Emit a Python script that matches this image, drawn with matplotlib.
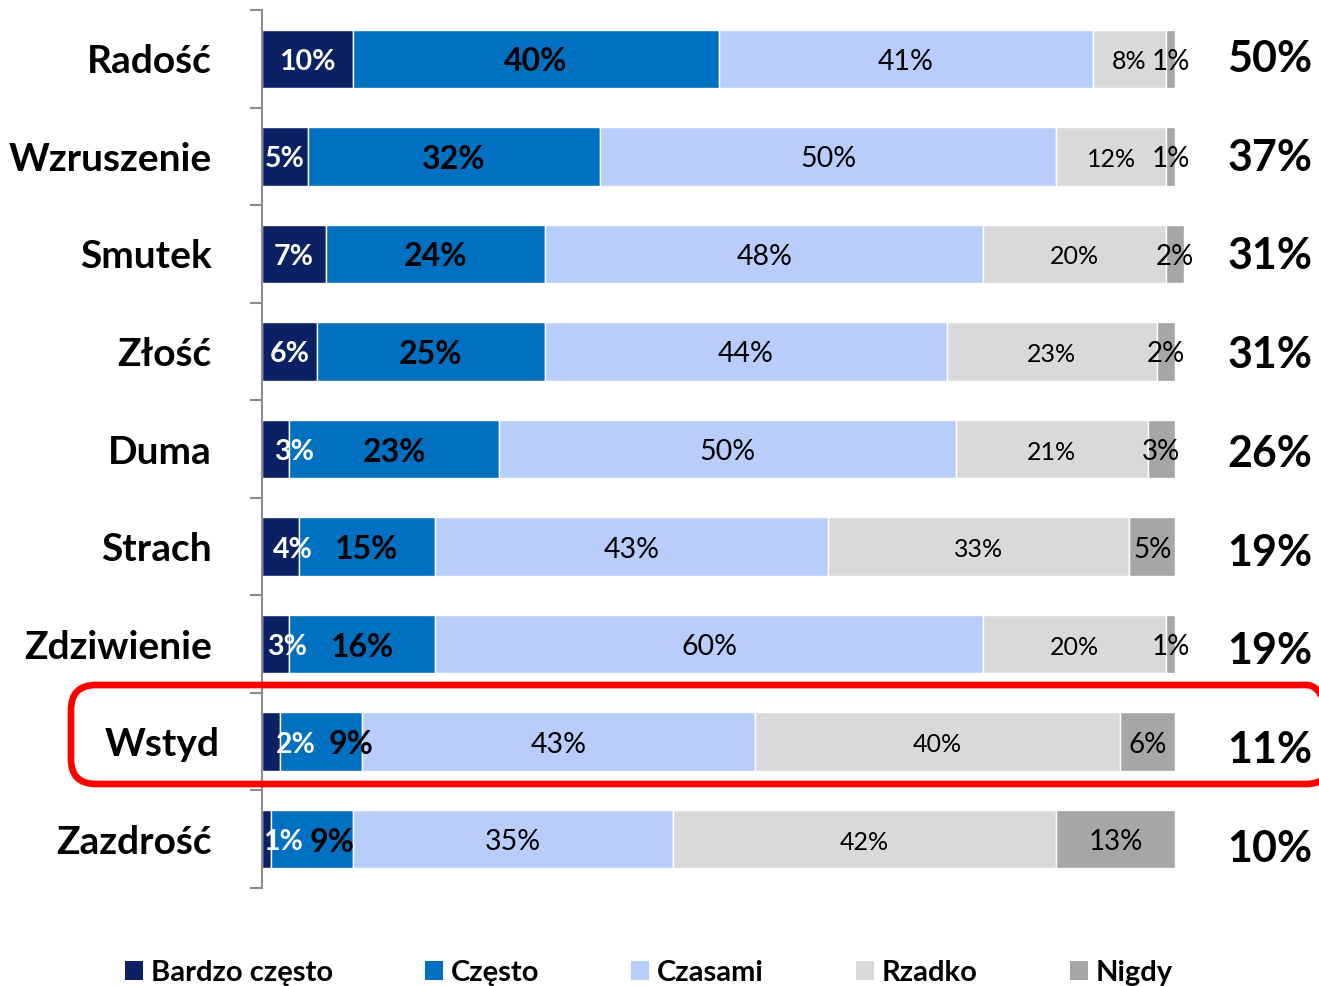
import matplotlib
matplotlib.use("Agg")
import matplotlib.pyplot as plt
from matplotlib.patches import FancyBboxPatch, Patch
import numpy as np

plt.rcParams['font.family'] = ['Lato', 'DejaVu Sans']

categories = ['Radość', 'Wzruszenie', 'Smutek', 'Złość', 'Duma',
              'Strach', 'Zdziwienie', 'Wstyd', 'Zazdrość']
series_names = ['Bardzo często', 'Często', 'Czasami', 'Rzadko', 'Nigdy']
bardzo_czesto = [10, 5, 7, 6, 3, 4, 3, 2, 1]
czesto = [40, 32, 24, 25, 23, 15, 16, 9, 9]
czasami = [41, 50, 48, 44, 50, 43, 60, 43, 35]
rzadko = [8, 12, 20, 23, 21, 33, 20, 40, 42]
nigdy = [1, 1, 2, 2, 3, 5, 1, 6, 13]
top2 = ['50%', '37%', '31%', '31%', '26%', '19%', '19%', '11%', '10%']

colors = ['#0B2163', '#0070C0', '#B8CDF9', '#D9D9D9', '#A6A6A6']
label_style = [
    dict(color='white', fontweight='bold', fontsize=20.5),
    dict(color='black', fontweight='bold', fontsize=23),
    dict(color='black', fontsize=20.5),
    dict(color='black', fontsize=18),
    dict(color='black', fontsize=20),
]
# horizontal nudges (pixels) for crowded labels: (row, series) -> dx
nudges = {(4, 0): 18, (5, 0): 13, (6, 0): 11, (7, 0): 25, (7, 1): 30,
          (8, 0): 16, (8, 1): 20}

W, H = 1319, 986
fig = plt.figure(figsize=(W / 100, H / 100), dpi=100)
ax = fig.add_axes([262 / W, 1 - 888 / H, 913 / W, 878 / H])

data = np.array([bardzo_czesto, czesto, czasami, rzadko, nigdy], dtype=float)
y = np.arange(len(categories))
left = np.zeros(len(categories))
for s in range(len(series_names)):
    ax.barh(y, data[s], left=left, height=0.6, color=colors[s],
            edgecolor='white', linewidth=1.0, label=series_names[s],
            clip_on=False)
    for i in range(len(categories)):
        cx = left[i] + data[s][i] / 2
        dx = nudges.get((i, s), 0)
        ax.annotate(f'{int(data[s][i])}%', xy=(cx, i), xytext=(dx, -3),
                    textcoords='offset pixels', ha='center', va='center',
                    **label_style[s])
    left += data[s]

ax.set_xlim(0, 100)
ax.set_ylim(len(categories) - 0.5, -0.5)
ax.set_xticks([])
ax.set_yticks(y)
ax.set_yticklabels([])
ax.tick_params(axis='y', which='major', length=0)
ax.set_yticks(np.arange(-0.5, len(categories)), minor=True)
ax.tick_params(axis='y', which='minor', length=9, width=1.5, color='#8C8C8C')
for sp in ['top', 'right', 'bottom']:
    ax.spines[sp].set_visible(False)
ax.spines['left'].set_color('#8C8C8C')
ax.spines['left'].set_linewidth(1.5)

for i, cat in enumerate(categories):
    dx = -42 if cat == 'Wstyd' else -50
    ax.annotate(cat, xy=(0, i), xycoords=('axes fraction', 'data'),
                xytext=(dx, -3), textcoords='offset pixels',
                ha='right', va='center', fontsize=28, fontweight='bold')
    ax.annotate(top2[i], xy=(1, i), xycoords=('axes fraction', 'data'),
                xytext=(1270 - 1175, -1.2 * i), textcoords='offset pixels',
                ha='center', va='center', fontsize=31, fontweight='bold')

# highlight box around "Wstyd"
box = FancyBboxPatch((0.71, (H - 784) / 100), 12.6, 0.99,
                     boxstyle='round,pad=0,rounding_size=0.25',
                     transform=fig.dpi_scale_trans, fill=False,
                     edgecolor='#FF0000', linewidth=4.8, clip_on=False)
fig.patches.append(box)

handles = [Patch(facecolor=c) for c in colors]
fig.legend(handles, series_names, loc='center left', ncol=5,
           bbox_to_anchor=(125 / W, 1 - 973 / H), frameon=False,
           borderpad=0, borderaxespad=0, handlelength=0.62, handleheight=0.62,
           handletextpad=0.27, columnspacing=3.15,
           prop=dict(size=21, weight='bold'))

fig.savefig('out.png', dpi=100)
